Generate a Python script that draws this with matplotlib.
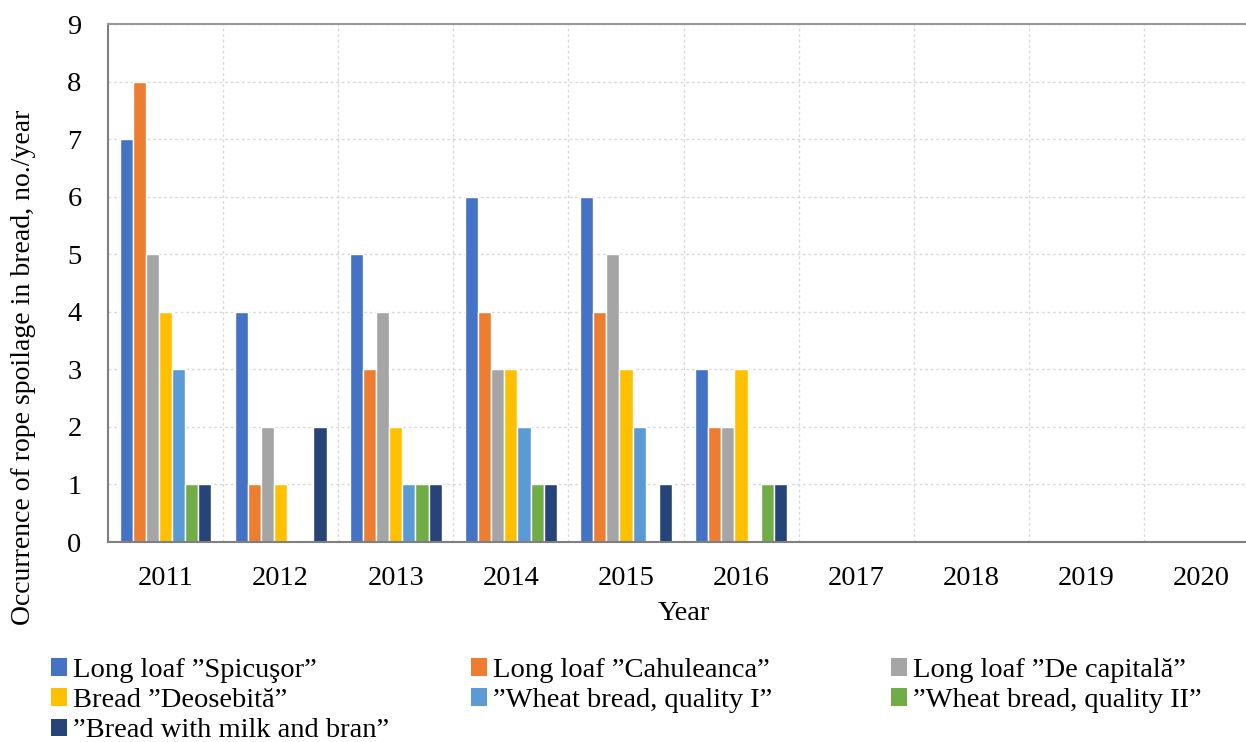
import numpy as np
import matplotlib.pyplot as plt
from matplotlib.patches import Patch

years = ["2011", "2012", "2013", "2014", "2015", "2016", "2017", "2018", "2019", "2020"]
series_names = [
    "Long loaf \u201dSpicu\u015for\u201d",
    "Long loaf \u201dCahuleanca\u201d",
    "Long loaf \u201dDe capital\u0103\u201d",
    "Bread \u201dDeosebit\u0103\u201d",
    "\u201dWheat bread, quality I\u201d",
    "\u201dWheat bread, quality II\u201d",
    "\u201dBread with milk and bran\u201d",
]
spicusor = [7, 4, 5, 6, 6, 3, 0, 0, 0, 0]
cahuleanca = [8, 1, 3, 4, 4, 2, 0, 0, 0, 0]
de_capitala = [5, 2, 4, 3, 5, 2, 0, 0, 0, 0]
deosebita = [4, 1, 2, 3, 3, 3, 0, 0, 0, 0]
wheat_q1 = [3, 0, 1, 2, 2, 0, 0, 0, 0, 0]
wheat_q2 = [1, 0, 1, 1, 0, 1, 0, 0, 0, 0]
milk_bran = [1, 2, 1, 1, 1, 1, 0, 0, 0, 0]
values = [spicusor, cahuleanca, de_capitala, deosebita, wheat_q1, wheat_q2, milk_bran]
colors = ["#4472C4", "#ED7D31", "#A5A5A5", "#FFC000", "#5B9BD5", "#70AD47", "#264478"]

plt.rcParams["font.family"] = ["Liberation Serif", "DejaVu Serif"]

fig = plt.figure(figsize=(12.46, 7.42), dpi=100)
ax = fig.add_axes([108 / 1246, 200 / 742, 1151 / 1246, 518 / 742])

x = np.arange(len(years))
w = 0.114
for i, (vals, col) in enumerate(zip(values, colors)):
    ax.bar(x + (i - 3) * w, vals, width=w, color=col, edgecolor="white",
           linewidth=1.0, zorder=2)

ax.set_xlim(-0.5, len(years) - 0.5)
ax.set_ylim(0, 9)
ax.set_yticks(range(10))
ax.set_xticks(x)
ax.set_xticklabels(years)
ax.set_xticks(x[:-1] + 0.5, minor=True)
ax.grid(axis="y", which="major", color="#d9d9d9", linestyle=(0, (2, 2)), linewidth=1, zorder=0)
ax.grid(axis="x", which="minor", color="#d9d9d9", linestyle=(0, (2, 2)), linewidth=1, zorder=0)
ax.grid(axis="x", which="major", visible=False)
ax.tick_params(axis="both", which="both", length=0, labelsize=20.5)
ax.tick_params(axis="y", pad=19)
ax.tick_params(axis="x", pad=17)
for s in ["left", "bottom", "top"]:
    ax.spines[s].set_color("#7f7f7f")
    ax.spines[s].set_linewidth(1.5)
ax.spines["top"].set_color("#999999")
ax.spines["right"].set_visible(False)

ax.set_xlabel("Year", fontsize=20.5)
ax.xaxis.set_label_coords(576 / 1151, -(614 - 542) / 518)
ax.set_ylabel("Occurrence of rope spoilage in bread, no./year", fontsize=20)
ax.yaxis.set_label_coords(-(108 - 24) / 1151, (542 - 367) / 518)
ax.xaxis.label.set_va("center")
ax.yaxis.label.set_va("center")

handles = [Patch(facecolor=c) for c in colors]
columns = [[0, 3, 6], [1, 4], [2, 5]]
col_x = [51 / 1246, 471 / 1246, 891 / 1246]
for cx, idxs in zip(col_x, columns):
    fig.legend([handles[i] for i in idxs], [series_names[i] for i in idxs],
               loc="upper left", bbox_to_anchor=(cx, 1 - 658 / 742), frameon=False,
               fontsize=20.5, handlelength=0.55, handleheight=0.55, handletextpad=0.22,
               labelspacing=0.18, borderaxespad=0, borderpad=0)

fig.savefig("out.png", dpi=100)
